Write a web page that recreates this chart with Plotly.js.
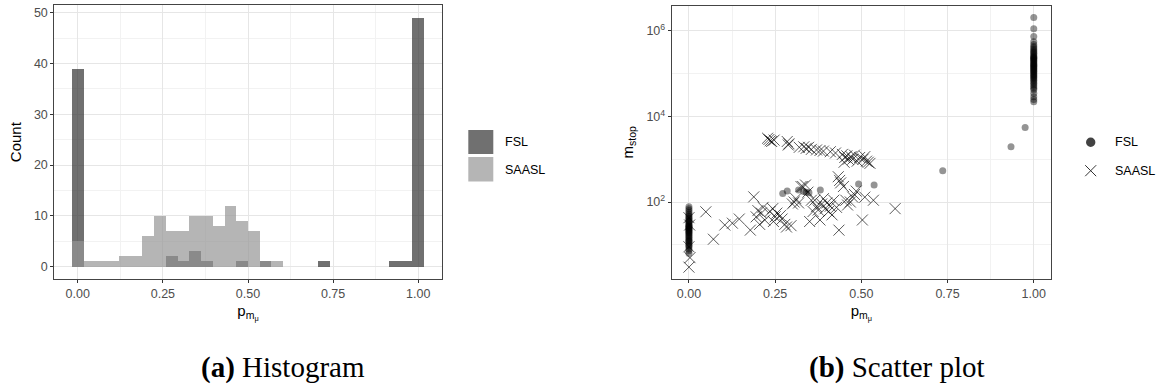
<!DOCTYPE html>
<html>
<head>
<meta charset="utf-8">
<script src="https://cdn.plot.ly/plotly-3.0.1.min.js"></script>
<style>
html,body{margin:0;padding:0;background:#fff;}
#chart{width:1157px;height:387px;}
</style>
</head>
<body>
<div id="chart"></div>
<script>
// ---------- data ----------
const seriesNames = ["FSL", "SAASL"];
const binCenters = [0, 0.0345, 0.0690, 0.1034, 0.1379, 0.1724, 0.2069, 0.2414, 0.2759, 0.3103,
  0.3448, 0.3793, 0.4138, 0.4483, 0.4828, 0.5172, 0.5517, 0.5862, 0.6207, 0.6552,
  0.6897, 0.7241, 0.7586, 0.7931, 0.8276, 0.8621, 0.8966, 0.9310, 0.9655, 1.0000];
const fslCounts = [39, 0, 0, 0, 0, 0, 0, 0, 2, 1, 3, 1, 0, 0, 1, 0, 1, 0, 0, 0, 0, 1, 0, 0, 0, 0, 0, 1, 1, 49];
const saaslCounts = [5, 1, 1, 1, 2, 2, 6, 10, 7, 7, 10, 10, 8, 12, 9, 7, 1, 1, 0, 0, 0, 0, 0, 0, 0, 0, 0, 0, 0, 0];

const fslX = [0,0,0,0,0,0,0,0,0,0, 0,0,0,0,0,0,0,0,0,0, 0,0,0,0,0,0,0,0,0,0, 0,0,0,0,0,0,0,0,0,
  0.272, 0.285, 0.318, 0.333, 0.340, 0.348, 0.381, 0.492, 0.537, 0.736, 0.934, 0.975,
  1,1,1,1,1,1,1,1,1,1, 1,1,1,1,1,1,1,1,1,1, 1,1,1,1,1,1,1,1,1,1, 1,1,1,1,1,1,1,1,1,1, 1,1,1,1,1,1,1,1,1];
const fslY = [78, 70, 63, 57, 52, 48, 45, 42, 40, 37, 35, 33, 31, 29, 28, 27, 26, 25, 24, 23,
  22, 21, 20, 19, 18, 17, 16, 15, 14, 13, 12.5, 12, 11, 10, 9.5, 9, 8, 7.3, 6.3,
  158, 180, 190, 175, 170, 165, 190, 263, 251, 537, 1950, 5500,
  2050000, 1130000, 740000, 560000, 480000, 430000, 400000, 370000, 340000, 320000,
  300000, 280000, 260000, 250000, 240000, 230000, 220000, 210000, 200000, 190000,
  180000, 172000, 165000, 158000, 150000, 143000, 136000, 130000, 124000, 118000,
  112000, 106000, 100000, 95000, 90000, 85000, 80000, 75000, 70000, 65000,
  60000, 55000, 50000, 46000, 42000, 35000, 29000, 25000, 22000];

const saaslX = [0, 0.002, 0, 0.003, 0,
  0.049, 0.071, 0.104, 0.126, 0.146, 0.178, 0.188,
  0.195, 0.200, 0.205, 0.210, 0.215, 0.220,
  0.228, 0.232, 0.236, 0.240, 0.247, 0.235, 0.243, 0.250, 0.255, 0.245,
  0.285, 0.290, 0.288, 0.265, 0.270, 0.278, 0.283,
  0.320, 0.296, 0.300, 0.305, 0.310, 0.318, 0.325,
  0.333, 0.340, 0.347, 0.355, 0.330, 0.338, 0.345, 0.350, 0.355, 0.360,
  0.370, 0.380, 0.390, 0.365, 0.370, 0.375, 0.380, 0.385, 0.390, 0.395,
  0.410, 0.425, 0.400, 0.405, 0.410, 0.415, 0.420, 0.428,
  0.445, 0.452, 0.458, 0.462, 0.450, 0.433, 0.437, 0.440, 0.435, 0.448, 0.455, 0.460,
  0.470, 0.475, 0.480, 0.488, 0.495, 0.468, 0.475, 0.480, 0.485,
  0.505, 0.510, 0.515, 0.520, 0.525, 0.503, 0.510,
  0.535, 0.598];
const saaslY = [43, 29, 9, 5, 3,
  59, 13.5, 29, 32, 40, 22, 132,
  45, 63, 30, 55, 75, 38,
  3100, 2900, 2700, 2600, 2800, 60, 70, 45, 55, 35,
  2600, 2300, 2150, 48, 40, 30, 26,
  1900, 28, 90, 100, 120, 95, 230,
  1950, 1800, 1900, 1700, 230, 250, 170, 35, 110, 60,
  1650, 1600, 1550, 110, 78, 65, 38, 90, 120, 70,
  1500, 1400, 95, 60, 80, 50, 110, 75,
  1300, 1100, 1200, 1000, 850, 390, 320, 280, 22, 230, 110, 85,
  1150, 1000, 1250, 900, 1100, 100, 130, 150, 180,
  1000, 1150, 900, 850, 800, 38, 130,
  110, 70];

const unitTickVals = [0, 0.25, 0.5, 0.75, 1];
const unitTickText = ["0.00", "0.25", "0.50", "0.75", "1.00"];
const countTickVals = [0, 10, 20, 30, 40, 50];
const logTickVals = [100, 10000, 1000000];
const logTickText = ["10<sup>2</sup>", "10<sup>4</sup>", "10<sup>6</sup>"];
const captions = ["<b>(a)</b> Histogram", "<b>(b)</b> Scatter plot"];

// ---------- helpers ----------
const W = 1157, H = 387;
const px = v => v / W;
const py = v => 1 - v / H;

const fslFill = "rgba(51,51,51,0.7)";
const saaslFill = "rgba(149,149,149,0.7)";
const sans = "Liberation Sans, Arial, sans-serif";
const tickFont = {family: sans, size: 12.5, color: "#4d4d4d"};
const titleFont = {family: sans, size: 15, color: "#000"};
const legendFont = {family: sans, size: 12.5, color: "#000"};
const captionFont = {family: "Liberation Serif, Times New Roman, serif", size: 29, color: "#000"};
const gridMajor = "#e6e6e6";
const gridMinor = "#f2f2f2";

function axisBase(extra) {
  return Object.assign({
    showgrid: true, gridcolor: gridMajor, gridwidth: 1,
    zeroline: false, showline: true, mirror: true, linecolor: "#444444", linewidth: 1,
    ticks: "outside", ticklen: 3, tickcolor: "#333333", tickwidth: 1,
    tickfont: tickFont, fixedrange: true
  }, extra);
}

const traces = [
  {type: "bar", name: seriesNames[0], x: binCenters, y: fslCounts, width: 0.0345,
   marker: {color: fslFill, line: {width: 0}}, xaxis: "x", yaxis: "y", showlegend: false},
  {type: "bar", name: seriesNames[1], x: binCenters, y: saaslCounts, width: 0.0345,
   marker: {color: saaslFill, line: {width: 0}}, xaxis: "x", yaxis: "y", showlegend: false},
  {type: "scatter", mode: "markers", name: seriesNames[0], x: fslX, y: fslY,
   marker: {symbol: "circle", size: 7, color: "rgba(0,0,0,0.42)", line: {width: 0}},
   xaxis: "x2", yaxis: "y2", showlegend: false},
  {type: "scatter", mode: "markers", name: seriesNames[1], x: saaslX, y: saaslY,
   marker: {symbol: "x-thin-open", size: 11, color: "rgba(0,0,0,0.65)", line: {width: 1, color: "rgba(0,0,0,0.65)"}},
   xaxis: "x2", yaxis: "y2", showlegend: false}
];

const xTitle = "p<sub>m<sub>μ</sub></sub>";
const minorUnit = {tickvals: [0.125, 0.375, 0.625, 0.875], showgrid: true, gridcolor: gridMinor, gridwidth: 1, ticks: ""};

const layout = {
  width: W, height: H,
  margin: {l: 0, r: 0, t: 0, b: 0},
  paper_bgcolor: "#ffffff", plot_bgcolor: "#ffffff",
  barmode: "overlay", bargap: 0,
  showlegend: false,
  xaxis: axisBase({
    domain: [px(54.3), px(441.7)], anchor: "y", range: [-0.069, 1.069],
    tickvals: unitTickVals, ticktext: unitTickText, minor: minorUnit,
    title: {text: xTitle, font: titleFont, standoff: 5}
  }),
  yaxis: axisBase({
    domain: [py(279), py(5.3)], anchor: "x", range: [-2.45, 51.45],
    tickvals: countTickVals,
    minor: {tickvals: [5, 15, 25, 35, 45], showgrid: true, gridcolor: gridMinor, gridwidth: 1, ticks: ""},
    title: {text: "Count", font: titleFont, standoff: 8}
  }),
  xaxis2: axisBase({
    domain: [px(671.7), px(1051)], anchor: "y2", range: [-0.05, 1.05],
    tickvals: unitTickVals, ticktext: unitTickText, minor: minorUnit,
    title: {text: xTitle, font: titleFont, standoff: 5}
  }),
  yaxis2: axisBase({
    domain: [py(279), py(5.7)], anchor: "x2", type: "log", range: [0.2, 6.59],
    tickvals: logTickVals, ticktext: logTickText,
    minor: {tickvals: [10, 1000, 100000], showgrid: true, gridcolor: gridMinor, gridwidth: 1, ticks: ""},
    title: {text: "m<sub>stop</sub>", font: titleFont, standoff: 9}
  }),
  shapes: [
    // histogram legend keys
    {type: "rect", xref: "paper", yref: "paper", x0: px(468.3), x1: px(493.3), y0: py(154), y1: py(130),
     fillcolor: "#707070", line: {width: 0}},
    {type: "rect", xref: "paper", yref: "paper", x0: px(468.3), x1: px(493.3), y0: py(181.5), y1: py(157),
     fillcolor: "#b5b5b5", line: {width: 0}},
    // scatter legend keys
    {type: "circle", xref: "paper", yref: "paper", x0: px(1086), x1: px(1095.4), y0: py(147), y1: py(137.6),
     fillcolor: "rgba(0,0,0,0.74)", line: {width: 0}},
    {type: "line", xref: "paper", yref: "paper", x0: px(1085.2), x1: px(1096.2), y0: py(165.2), y1: py(176.2),
     line: {color: "#333333", width: 1}},
    {type: "line", xref: "paper", yref: "paper", x0: px(1085.2), x1: px(1096.2), y0: py(176.2), y1: py(165.2),
     line: {color: "#333333", width: 1}}
  ],
  annotations: [
    {xref: "paper", yref: "paper", x: px(503), y: py(142), text: seriesNames[0], showarrow: false,
     xanchor: "left", yanchor: "middle", font: legendFont},
    {xref: "paper", yref: "paper", x: px(503), y: py(169.5), text: seriesNames[1], showarrow: false,
     xanchor: "left", yanchor: "middle", font: legendFont},
    {xref: "paper", yref: "paper", x: px(1113), y: py(142.3), text: seriesNames[0], showarrow: false,
     xanchor: "left", yanchor: "middle", font: legendFont},
    {xref: "paper", yref: "paper", x: px(1113), y: py(170.7), text: seriesNames[1], showarrow: false,
     xanchor: "left", yanchor: "middle", font: legendFont},
    {xref: "paper", yref: "paper", x: px(283), y: py(367), text: captions[0], showarrow: false,
     xanchor: "center", yanchor: "middle", font: captionFont},
    {xref: "paper", yref: "paper", x: px(897), y: py(367), text: captions[1], showarrow: false,
     xanchor: "center", yanchor: "middle", font: captionFont}
  ]
};

Plotly.newPlot("chart", traces, layout, {displayModeBar: false, staticPlot: true});
</script>
</body>
</html>
